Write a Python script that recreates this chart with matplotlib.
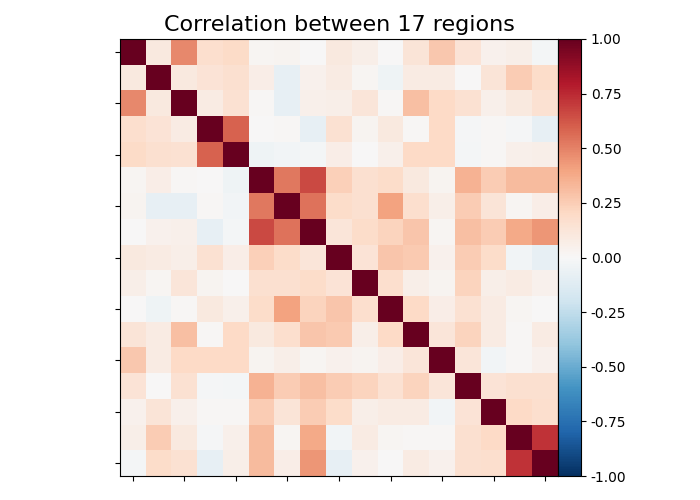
import numpy as np
import matplotlib
matplotlib.use("Agg")
import matplotlib.pyplot as plt

# correlation values, one list per region
r00 = [1.00, 0.10, 0.48, 0.17, 0.19, 0.02, 0.03, 0.00, 0.10, 0.06, 0.00, 0.13, 0.27, 0.14, 0.04, 0.06, -0.02]
r01 = [0.10, 1.00, 0.10, 0.14, 0.16, 0.07, -0.08, 0.04, 0.08, 0.02, -0.04, 0.08, 0.08, 0.00, 0.13, 0.25, 0.18]
r02 = [0.48, 0.10, 1.00, 0.08, 0.15, 0.01, -0.08, 0.05, 0.06, 0.12, 0.01, 0.30, 0.20, 0.15, 0.05, 0.10, 0.15]
r03 = [0.17, 0.14, 0.08, 1.00, 0.59, 0.00, 0.01, -0.08, 0.15, 0.03, 0.10, 0.01, 0.20, -0.01, 0.01, -0.01, -0.08]
r04 = [0.19, 0.16, 0.15, 0.59, 1.00, -0.04, -0.03, -0.02, 0.07, 0.00, 0.05, 0.20, 0.20, -0.02, 0.01, 0.05, 0.06]
r05 = [0.02, 0.07, 0.01, 0.00, -0.04, 1.00, 0.53, 0.66, 0.24, 0.16, 0.18, 0.10, 0.03, 0.35, 0.25, 0.32, 0.32]
r06 = [0.03, -0.08, -0.08, 0.01, -0.03, 0.53, 1.00, 0.54, 0.18, 0.16, 0.40, 0.17, 0.06, 0.25, 0.13, 0.02, 0.07]
r07 = [0.00, 0.04, 0.05, -0.08, -0.02, 0.66, 0.54, 1.00, 0.12, 0.18, 0.22, 0.28, 0.02, 0.30, 0.25, 0.38, 0.44]
r08 = [0.10, 0.08, 0.06, 0.15, 0.07, 0.24, 0.18, 0.12, 1.00, 0.14, 0.28, 0.26, 0.04, 0.25, 0.18, -0.03, -0.08]
r09 = [0.06, 0.02, 0.12, 0.03, 0.00, 0.16, 0.16, 0.18, 0.14, 1.00, 0.17, 0.06, 0.03, 0.22, 0.06, 0.08, 0.04]
r10 = [0.00, -0.04, 0.01, 0.10, 0.05, 0.18, 0.40, 0.22, 0.28, 0.17, 1.00, 0.20, 0.07, 0.15, 0.08, 0.02, 0.00]
r11 = [0.13, 0.08, 0.30, 0.01, 0.20, 0.10, 0.17, 0.28, 0.26, 0.06, 0.20, 1.00, 0.12, 0.22, 0.08, 0.01, 0.08]
r12 = [0.27, 0.08, 0.20, 0.20, 0.20, 0.03, 0.06, 0.02, 0.04, 0.03, 0.07, 0.12, 1.00, 0.12, -0.03, 0.01, 0.04]
r13 = [0.14, 0.00, 0.15, -0.01, -0.02, 0.35, 0.25, 0.30, 0.25, 0.22, 0.15, 0.22, 0.12, 1.00, 0.14, 0.16, 0.16]
r14 = [0.04, 0.13, 0.05, 0.01, 0.01, 0.25, 0.13, 0.25, 0.18, 0.06, 0.08, 0.08, -0.03, 0.14, 1.00, 0.20, 0.17]
r15 = [0.06, 0.25, 0.10, -0.01, 0.05, 0.32, 0.02, 0.38, -0.03, 0.08, 0.02, 0.01, 0.01, 0.16, 0.20, 1.00, 0.72]
r16 = [-0.02, 0.18, 0.15, -0.08, 0.06, 0.32, 0.07, 0.44, -0.08, 0.04, 0.00, 0.08, 0.04, 0.16, 0.17, 0.72, 1.00]

corr = np.array([r00, r01, r02, r03, r04, r05, r06, r07, r08,
                 r09, r10, r11, r12, r13, r14, r15, r16])
n = len(corr)

fig = plt.figure(figsize=(7, 5), dpi=100)
ax = fig.add_axes([120 / 700, 24 / 500, 438 / 700, 437 / 500])
cax = fig.add_axes([558 / 700, 24 / 500, 23 / 700, 437 / 500])

im = ax.imshow(corr, cmap="RdBu_r", vmin=-1, vmax=1, aspect="auto")
ax.set_xticks(np.arange(0, n, 2))
ax.set_yticks(np.arange(0, n, 2))
ax.set_xticklabels([])
ax.set_yticklabels([])
ax.set_title("Correlation between 17 regions", fontsize=16)

fig.colorbar(im, cax=cax, ticks=np.linspace(-1, 1, 9), format="%.2f")

fig.savefig("out.png", dpi=100)
